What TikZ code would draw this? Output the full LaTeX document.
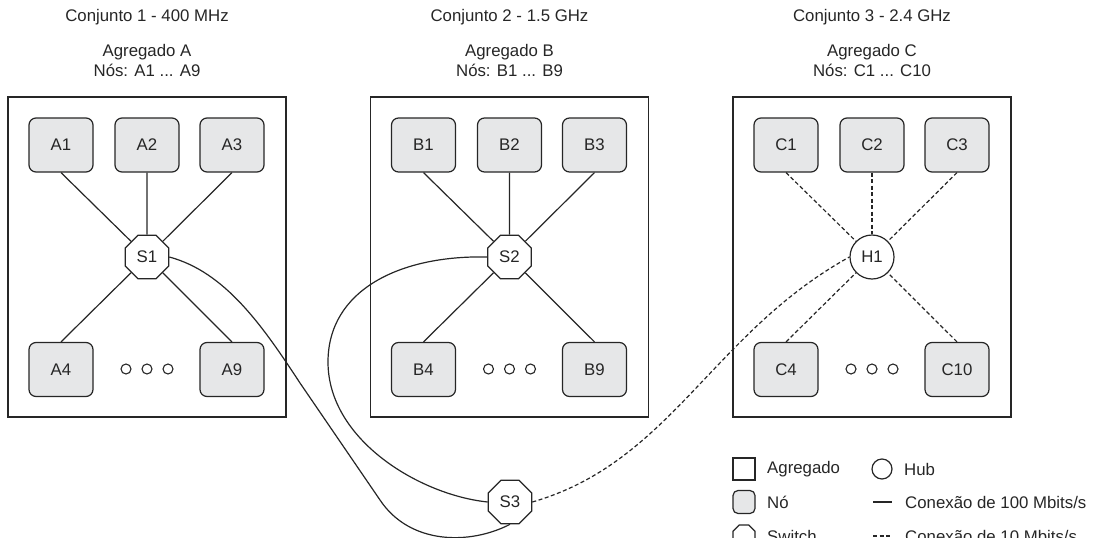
\documentclass[tikz,border=0pt]{standalone}
\usepackage{fontspec}
\setmainfont{Liberation Sans}
\usetikzlibrary{shapes.geometric}
\definecolor{ink}{HTML}{262626}
\definecolor{nodefill}{HTML}{E6E7E8}
\begin{document}
\begin{tikzpicture}[x=1pt,y=-1pt,
  every node/.style={font=\fontsize{16.8}{20}\selectfont, text=ink},
  label/.style={inner sep=0pt, align=center},
  cluster/.style={draw=ink, line width=1.3pt, minimum width=278pt, minimum height=320pt, inner sep=0pt},
  host/.style={draw=ink, fill=nodefill, line width=1.2pt, rounded corners=7pt,
    minimum width=64pt, minimum height=54pt, inner sep=0pt},
  switchnode/.style={draw=ink, fill=white, line width=1.2pt, regular polygon, regular polygon sides=8,
    minimum size=47pt, inner sep=0pt},
  hubnode/.style={draw=ink, fill=white, line width=1.2pt, circle, minimum size=44pt, inner sep=0pt},
  fast/.style={draw=ink, line width=1.2pt},
  slow/.style={draw=ink, line width=1.2pt, dash pattern=on 4pt off 2.5pt},
  dotmark/.style={draw=ink, line width=1.1pt, circle, minimum size=10pt, inner sep=0pt},
]
\useasboundingbox (0,0) rectangle (1095,538);
\clip (0,0) rectangle (1095,538);

% ---------- headings ----------
\node[label] (tA) at (147,17) {Conjunto 1 - 400 MHz};
\node[label] (hA) at (147,60) {Agregado A\\Nós: A1 ... A9};
\node[label] (tB) at (509.5,17) {Conjunto 2 - 1.5 GHz};
\node[label] (hB) at (509.5,60) {Agregado B\\Nós: B1 ... B9};
\node[label] (tC) at (872,17) {Conjunto 3 - 2.4 GHz};
\node[label] (hC) at (872,60) {Agregado C\\Nós: C1 ... C10};

% ---------- cluster frames ----------
\node[cluster] (boxA) at (147,257) {};
\node[cluster] (boxB) at (509.5,257) {};
\node[cluster] (boxC) at (872,257) {};

% ---------- cluster A ----------
\node[host] (A1) at (61,145) {A1};
\node[host] (A2) at (147,145) {A2};
\node[host] (A3) at (232,145) {A3};
\node[host] (A4) at (61,369.5) {A4};
\node[host] (A9) at (232,369.5) {A9};
\node[switchnode] (S1) at (147,257) {S1};
\node[dotmark] (dA1) at (126,369) {};
\node[dotmark] (dA2) at (147,369) {};
\node[dotmark] (dA3) at (168,369) {};
\foreach \n in {A1,A2,A3} \draw[fast] (\n.south) -- (S1);
\foreach \n in {A4,A9} \draw[fast] (\n.north) -- (S1);

% ---------- cluster B ----------
\node[host] (B1) at (423.5,145) {B1};
\node[host] (B2) at (509.5,145) {B2};
\node[host] (B3) at (594.5,145) {B3};
\node[host] (B4) at (423.5,369.5) {B4};
\node[host] (B9) at (594.5,369.5) {B9};
\node[switchnode] (S2) at (509.5,257) {S2};
\node[dotmark] (dB1) at (488.5,369) {};
\node[dotmark] (dB2) at (509.5,369) {};
\node[dotmark] (dB3) at (530.5,369) {};
\foreach \n in {B1,B2,B3} \draw[fast] (\n.south) -- (S2);
\foreach \n in {B4,B9} \draw[fast] (\n.north) -- (S2);

% ---------- cluster C ----------
\node[host] (C1) at (786,145) {C1};
\node[host] (C2) at (872,145) {C2};
\node[host] (C3) at (957,145) {C3};
\node[host] (C4) at (786,369.5) {C4};
\node[host] (C10) at (957,369.5) {C10};
\node[hubnode] (H1) at (872,257) {H1};
\node[dotmark] (dC1) at (851,369) {};
\node[dotmark] (dC2) at (872,369) {};
\node[dotmark] (dC3) at (893,369) {};
\foreach \n in {C1,C2,C3} \draw[slow] (\n.south) -- (H1);
\foreach \n in {C4,C10} \draw[slow] (\n.north) -- (H1);

% ---------- backbone switch ----------
\node[switchnode] (S3) at (510,502) {S3};
\draw[fast] (S1.east) .. controls (225,272) and (262,325) .. (300,383)
  -- (380,500) .. controls (410,545) and (470,545) .. (S3.south);
\draw[fast] (S2.west) .. controls (400,255) and (328,290) .. (328,362)
  .. controls (328,440) and (420,495) .. (S3.west);
\draw[slow] (S3.east) .. controls (671,462) and (712,333) .. (H1.west);

% ---------- legend ----------
\node[draw=ink, line width=1.2pt, minimum size=22pt, inner sep=0pt] (kAgg) at (744,469) {};
\node[label, anchor=west] (kAggT) at (767,469) {Agregado};
\node[draw=ink, line width=1.2pt, circle, minimum size=20pt, inner sep=0pt] (kHub) at (882,469) {};
\node[label, anchor=west] (kHubT) at (904,469) {Hub};

\node[draw=ink, fill=nodefill, line width=1.2pt, rounded corners=5pt, minimum width=22pt,
  minimum height=23pt, inner sep=0pt] (kNode) at (744,502) {};
\node[label, anchor=west] (kNodeT) at (767,502) {Nó};
\coordinate (kFastA) at (873,502);
\coordinate (kFastB) at (892,502);
\draw[fast] (kFastA) -- (kFastB);
\node[label, anchor=west] (kFastT) at (905,502) {Conexão de 100 Mbits/s};

\node[draw=ink, fill=white, line width=1.2pt, regular polygon, regular polygon sides=8,
  minimum size=24pt, inner sep=0pt] (kSw) at (744,536) {};
\node[label, anchor=west] (kSwT) at (767,536) {Switch};
\coordinate (kSlowA) at (873,536);
\coordinate (kSlowB) at (892,536);
\draw[slow] (kSlowA) -- (kSlowB);
\node[label, anchor=west] (kSlowT) at (905,536) {Conexão de 10 Mbits/s};
\end{tikzpicture}
\end{document}
